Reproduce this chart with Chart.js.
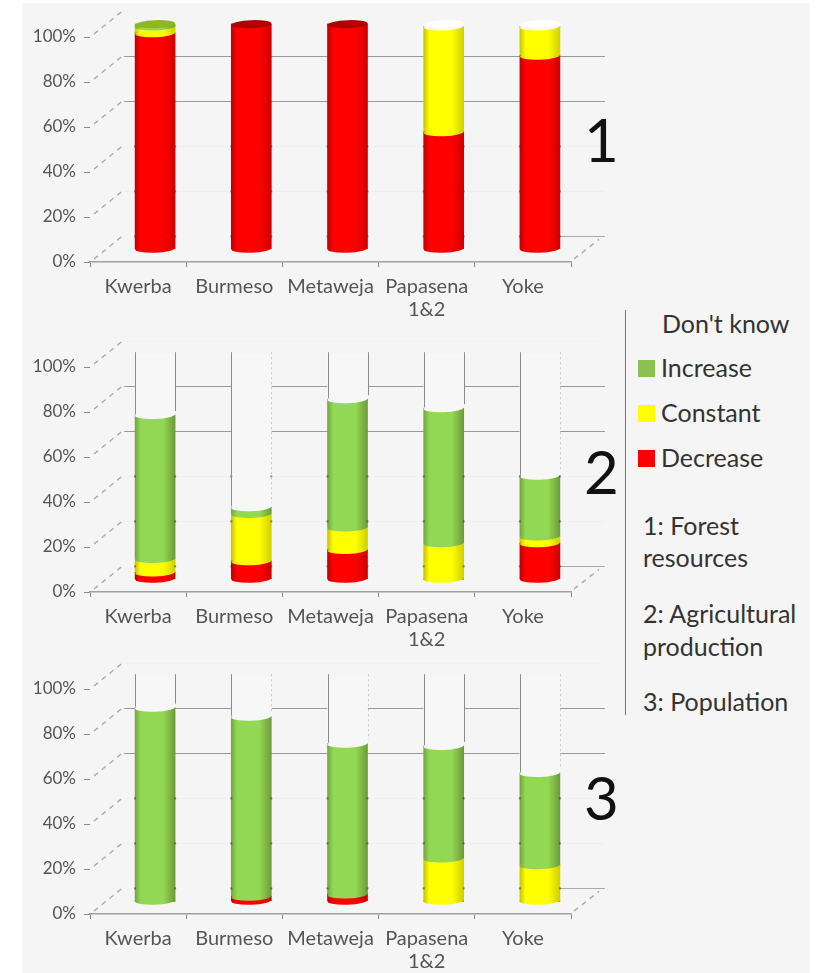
<!DOCTYPE html>
<html>
<head>
<meta charset="utf-8">
<script src="https://cdn.jsdelivr.net/npm/chart.js@4"></script>
<style>
  html, body { margin: 0; padding: 0; background: #fff; }
  body { width: 816px; height: 973px; position: relative; overflow: hidden; font-family: Lato, sans-serif; color: #333; }
  #panel { position: absolute; left: 22px; top: 3px; width: 788px; height: 970px; background: #f5f5f5; }
  canvas { position: absolute; left: 0; }
  .txt { position: absolute; font-size: 25px; line-height: 28px; white-space: nowrap; }
  .num { position: absolute; font-size: 60px; line-height: 70px; color: #111; left: 584px; }
  .sq { position: absolute; left: 638px; width: 17px; height: 17px; }
  #divider { position: absolute; left: 625px; top: 310px; width: 1px; height: 405px; background: #777; }
</style>
</head>
<body>
<div id="panel"></div>
<canvas id="chart1" style="top:0"></canvas>
<canvas id="chart2" style="top:330px"></canvas>
<canvas id="chart3" style="top:652px"></canvas>

<div class="num" style="top:104px">1</div>
<div class="num" style="top:436px">2</div>
<div class="num" style="top:762px">3</div>

<div id="divider"></div>
<div class="txt" style="left:662px;top:309px">Don't know</div>
<div class="sq" style="top:360px;background:#8cc152"></div>
<div class="txt" style="left:661px;top:353px">Increase</div>
<div class="sq" style="top:405px;background:#ffff00"></div>
<div class="txt" style="left:661px;top:398px">Constant</div>
<div class="sq" style="top:450px;background:#ff0000"></div>
<div class="txt" style="left:661px;top:443px">Decrease</div>
<div class="txt" style="left:643px;top:511px">1: Forest</div>
<div class="txt" style="left:643px;top:543px">resources</div>
<div class="txt" style="left:643px;top:599px">2: Agricultural</div>
<div class="txt" style="left:643px;top:632px">production</div>
<div class="txt" style="left:643px;top:687px">3: Population</div>

<script>
const categories = ["Kwerba", "Burmeso", "Metaweja", ["Papasena", "1&2"], "Yoke"];

// 1: Forest resources
const forestDecrease = [96, 100, 100, 52, 86];
const forestConstant = [3, 0, 0, 47, 13];
const forestIncrease = [1, 0, 0, 0, 0];
const forestDontKnow = [0, 0, 0, 1, 1];

// 2: Agricultural production
const agriDecrease = [3, 8, 13, 0, 16];
const agriConstant = [6, 21, 10, 16, 3];
const agriIncrease = [64, 3, 57, 60, 27];
const agriDontKnow = [27, 68, 20, 24, 54];

// 3: Population
const popDecrease = [0, 2, 3, 0, 0];
const popConstant = [0, 0, 0, 19, 16];
const popIncrease = [86, 80, 67, 50, 41];
const popDontKnow = [14, 18, 30, 31, 43];

const BAR_W = 40, ELL_H = 4, TILT = -0.04;
const DEPTH_X = 34, DEPTH_Y = 25.6;

// edge, middle, far edge of each cylinder + colour of the top cap
const shades = {
  decrease: ["#c40000", "#ff0000", "#d00000", "#b00000"],
  constant: ["#c6c600", "#ffff00", "#d0d000", "#9dbb10"],
  increase: ["#74a63e", "#93d854", "#6c9c3a", "#8fb820"],
  dontKnow: ["#f7f7f7", "#f7f7f7", "#f7f7f7", "#ffffff"]
};

const cylinderFill = (ctx, cx, s) => {
  const g = ctx.createLinearGradient(cx - BAR_W / 2, 0, cx + BAR_W / 2, 0);
  g.addColorStop(0, s[0]);
  g.addColorStop(0.14, s[1]);
  g.addColorStop(0.7, s[1]);
  g.addColorStop(1, s[2]);
  return g;
};

const ellipse = (ctx, cx, cy, fill) => {
  ctx.fillStyle = fill;
  ctx.beginPath();
  ctx.ellipse(cx, cy, BAR_W / 2, ELL_H, TILT, 0, Math.PI * 2);
  ctx.fill();
};

// the old chart has a fake 3D look: side walls, back grid, round bars
const depthPlugin = {
  id: "depth",
  beforeDatasetsDraw(chart, args, opts) {
    const { ctx, scales: { x, y } } = chart;
    const left = x.left, right = x.right;
    ctx.save();
    ctx.lineWidth = 1.4;
    ctx.strokeStyle = "#aaa";
    ctx.setLineDash([5, 5]);
    [0, 20, 40, 60, 80, 100].forEach(v => {
      const py = y.getPixelForValue(v);
      ctx.beginPath();
      ctx.moveTo(left + 4, py - 3);
      ctx.lineTo(left + DEPTH_X - 2, py - DEPTH_Y);
      ctx.stroke();
    });
    const py0 = y.getPixelForValue(0);
    ctx.beginPath();
    ctx.moveTo(right + 3, py0 - 3);
    ctx.lineTo(right + DEPTH_X - 6, py0 - DEPTH_Y + 3);
    ctx.stroke();
    ctx.setLineDash([]);
    ctx.lineWidth = 1;
    [[60, "#999"], [80, "#999"], [20, "#efefef"], [40, "#efefef"], [100, "#f2f2f2"]].forEach(([v, col]) => {
      const py = Math.round(y.getPixelForValue(v) - DEPTH_Y) + 0.5;
      ctx.strokeStyle = col;
      ctx.beginPath();
      ctx.moveTo(left + DEPTH_X, py);
      ctx.lineTo(right + DEPTH_X, py);
      ctx.stroke();
    });
    // only this stub of the floor line shows, right of the last bar
    const floorY = Math.round(py0 - DEPTH_Y) + 0.5;
    ctx.strokeStyle = "#aaa";
    ctx.beginPath();
    ctx.moveTo(x.getPixelForValue(4) + DEPTH_X / 2 + BAR_W / 2, floorY);
    ctx.lineTo(right + DEPTH_X, floorY);
    ctx.stroke();
    ctx.restore();
    // bars stand halfway into the depth
    ctx.save();
    ctx.translate(DEPTH_X / 2, -DEPTH_Y / 2);
  },
  afterDatasetsDraw(chart, args, opts) {
    const { ctx, scales: { y } } = chart;
    const metas = chart.getSortedVisibleDatasetMetas().slice().sort((a, b) => a.index - b.index);
    const keys = ["decrease", "constant", "increase", "dontKnow"];
    const top = y.getPixelForValue(100);
    metas.forEach((meta, i) => {
      const s = shades[keys[i]];
      meta.data.forEach((el, j) => {
        if (!chart.data.datasets[i].data[j]) return;
        ellipse(ctx, el.x, el.base, cylinderFill(ctx, el.x, s));
      });
    });
    // top caps and the walls of the empty part
    categories.forEach((c, j) => {
      const dk = metas[3].data[j];
      // little grid marks left on the bar edges
      ctx.fillStyle = "rgba(70,40,40,0.55)";
      [0, 20, 40].forEach(v => {
        const py = y.getPixelForValue(v) - DEPTH_Y / 2;
        ctx.fillRect(dk.x - BAR_W / 2 - 1, py - 1, 2, 2);
        ctx.fillRect(dk.x + BAR_W / 2 - 1, py - 1, 2, 2);
      });
      if (chart.data.datasets[3].data[j] < 5) {
        let last = 3;
        while (last > 0 && !chart.data.datasets[last].data[j]) last--;
        ellipse(ctx, dk.x, top, shades[keys[last]][3]);
        return;
      }
      ctx.lineWidth = 1;
      ctx.strokeStyle = "#8c8c8c";
      ctx.beginPath();
      ctx.moveTo(Math.round(dk.x - BAR_W / 2) + 0.5, top - 2);
      ctx.lineTo(Math.round(dk.x - BAR_W / 2) + 0.5, dk.base - 1);
      ctx.stroke();
      const dotted = opts.dottedRight.includes(j);
      ctx.strokeStyle = dotted ? "#c8c8c8" : "#8c8c8c";
      ctx.setLineDash(dotted ? [2, 3] : []);
      ctx.beginPath();
      ctx.moveTo(Math.round(dk.x + BAR_W / 2) + 0.5, top - 2);
      ctx.lineTo(Math.round(dk.x + BAR_W / 2) + 0.5, dk.base - 4);
      ctx.stroke();
      ctx.setLineDash([]);
    });
    ctx.restore();
  }
};

const makeSeries = (label, values, s) => ({
  label,
  data: values,
  stack: "one",
  clip: false,
  barThickness: BAR_W,
  borderWidth: 0,
  backgroundColor: c => {
    const cx = c.type === "data" && c.chart.scales.x ? c.chart.scales.x.getPixelForValue(c.dataIndex) : NaN;
    return Number.isFinite(cx) ? cylinderFill(c.chart.ctx, cx, s) : s[1];
  }
});

const createPanel = (id, decrease, constant, increase, dontKnow, dottedRight) => {
  const canvas = document.getElementById(id);
  canvas.width = 620;
  canvas.height = 321;
  new Chart(canvas.getContext("2d"), {
    type: "bar",
    data: {
      labels: categories,
      datasets: [
        makeSeries("Decrease", decrease, shades.decrease),
        makeSeries("Constant", constant, shades.constant),
        makeSeries("Increase", increase, shades.increase),
        makeSeries("Don't know", dontKnow, shades.dontKnow)
      ]
    },
    plugins: [depthPlugin],
    options: {
      responsive: false,
      animation: false,
      layout: { padding: { top: 37, right: 49, left: 0, bottom: 0 } },
      plugins: {
        legend: { display: false },
        tooltip: { enabled: false },
        depth: { dottedRight }
      },
      scales: {
        x: {
          stacked: true,
          afterFit: s => { s.height = 59; },
          border: { color: "#a0a0a0", width: 1.5 },
          grid: { drawOnChartArea: false, color: "#888", tickLength: 5 },
          ticks: {
            color: "#555",
            maxRotation: 0,
            autoSkip: false,
            padding: 8,
            font: { family: "Lato", size: 20, lineHeight: 1.15 }
          }
        },
        y: {
          stacked: true,
          min: 0,
          max: 100,
          afterFit: s => { s.width = 90; },
          border: { display: false },
          grid: { drawOnChartArea: false, color: "#888", tickLength: 6 },
          ticks: {
            stepSize: 20,
            color: "#555",
            padding: 8,
            font: { family: "Lato", size: 17 },
            callback: v => v + "%"
          }
        }
      }
    }
  });
};

createPanel("chart1", forestDecrease, forestConstant, forestIncrease, forestDontKnow, []);
createPanel("chart2", agriDecrease, agriConstant, agriIncrease, agriDontKnow, [1, 4]);
createPanel("chart3", popDecrease, popConstant, popIncrease, popDontKnow, [1, 2, 4]);
</script>
</body>
</html>
